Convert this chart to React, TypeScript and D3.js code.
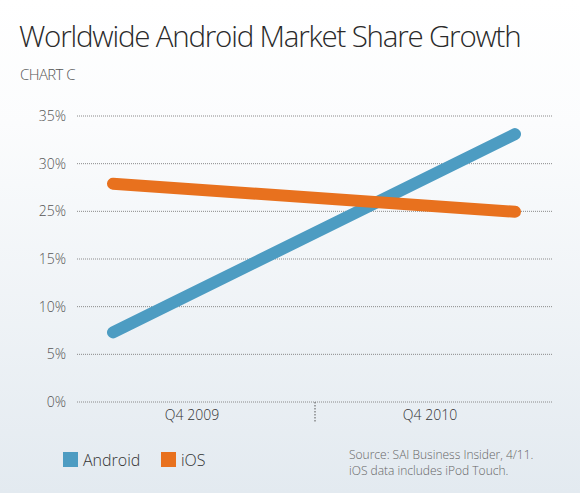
import React from "react";
import * as d3 from "d3";

const categories = ["Q4 2009", "Q4 2010"];
const androidValues = [7.3, 33.1];
const iosValues = [27.9, 24.9];
const tickValues = [0, 5, 10, 15, 25, 30, 35];
const tickLabels = ["0%", "5%", "10%", "15%", "25%", "30%", "35%"];
const seriesNames = ["Android", "iOS"];
const seriesColors = ["#4d9cc2", "#e8711e"];

const W = 580;
const H = 493;
const FONT = "'Open Sans', 'DejaVu Sans', sans-serif";

export default function App() {
  const yTop = 116;
  const yBottom = 402;
  const step = (yBottom - yTop) / (tickValues.length - 1);
  const y = d3
    .scaleLinear()
    .domain(tickValues)
    .range(tickValues.map((_, i) => yBottom - i * step));

  const xBand = d3.scaleBand().domain(categories).range([77, 553]);
  const xPoint = d3.scalePoint().domain(categories).range([113, 515]);

  const line = d3
    .line<number>()
    .x((_, i) => xPoint(categories[i]) as number)
    .y((d) => y(d));

  const series = [androidValues, iosValues];

  return (
    <svg
      width={W}
      height={H}
      style={{ position: "absolute", left: 0, top: 0, display: "block" }}
      fontFamily={FONT}
    >
      <defs>
        <linearGradient id="bg" x1="0" y1="0" x2="0" y2="1">
          <stop offset="0" stopColor="#ffffff" />
          <stop offset="0.25" stopColor="#fbfcfd" />
          <stop offset="1" stopColor="#e3eaf0" />
        </linearGradient>
      </defs>
      <rect x={0} y={0} width={W} height={H} fill="url(#bg)" />

      <text x={19} y={47} fontSize={29.5} fontWeight={300} fill="#2a2a2a" letterSpacing={-1.2}>
        Worldwide Android Market Share Growth
      </text>
      <text x={20} y={80} fontSize={15} fontWeight={300} fill="#555" letterSpacing={-0.6}>
        CHART C
      </text>

      {tickValues.map((v, i) => (
        <g key={v}>
          <line
            x1={77}
            x2={553}
            y1={y(v)}
            y2={y(v)}
            stroke="#8a8a8a"
            strokeWidth={1}
            strokeDasharray="1 1"
          />
          <text
            x={66}
            y={y(v)}
            dy="0.35em"
            textAnchor="end"
            fontSize={14}
            fontWeight={300}
            fill="#555"
          >
            {tickLabels[i]}
          </text>
        </g>
      ))}

      <line
        x1={(xBand(categories[1]) as number)}
        x2={(xBand(categories[1]) as number)}
        y1={yBottom}
        y2={yBottom + 20}
        stroke="#555"
        strokeWidth={1}
        strokeDasharray="1.5 1.5"
      />

      {categories.map((c) => (
        <text
          key={c}
          x={(xBand(c) as number) + xBand.bandwidth() / 2 - 4}
          y={420}
          textAnchor="middle"
          fontSize={14}
          fontWeight={300}
          fill="#333"
        >
          {c}
        </text>
      ))}

      {series.map((vals, i) => (
        <path
          key={seriesNames[i]}
          d={line(vals) || ""}
          fill="none"
          stroke={seriesColors[i]}
          strokeWidth={12}
          strokeLinecap="round"
        />
      ))}

      <rect x={63} y={452} width={15} height={15} fill={seriesColors[0]} />
      <text x={83} y={466} fontSize={16} fontWeight={300} fill="#333">
        {seriesNames[0]}
      </text>
      <rect x={161} y={452} width={15} height={15} fill={seriesColors[1]} />
      <text x={181} y={466} fontSize={16} fontWeight={300} fill="#333">
        {seriesNames[1]}
      </text>

      <text x={349} y={459} fontSize={12} fontWeight={300} fill="#666">
        Source: SAI Business Insider, 4/11.
      </text>
      <text x={349} y={475} fontSize={12} fontWeight={300} fill="#666">
        iOS data includes iPod Touch.
      </text>
    </svg>
  );
}
